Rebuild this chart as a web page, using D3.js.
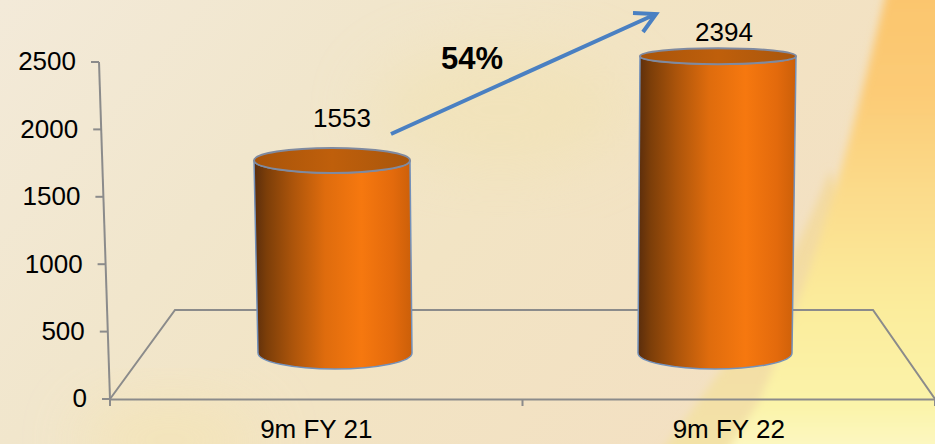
<!DOCTYPE html>
<html>
<head>
<meta charset="utf-8">
<script src="https://cdn.jsdelivr.net/npm/d3@7/dist/d3.min.js"></script>
<style>
html, body { margin: 0; padding: 0; overflow: hidden; }
svg { display: block; font-family: "Liberation Sans", Arial, sans-serif; }
.axis path, .axis line { stroke: #8b8b8b; stroke-width: 2; fill: none; }
.axis text { font-size: 26px; fill: #000; }
.value { font-size: 26px; fill: #000; text-anchor: middle; }
</style>
</head>
<body>
<svg id="chart" width="935" height="444"></svg>
<script>
var categories = ["9m FY 21", "9m FY 22"];
var values = [1553, 2394];
var yTicks = [0, 500, 1000, 1500, 2000, 2500];
var growthLabel = "54%";

var svg = d3.select("#chart"),
    width = +svg.attr("width"),
    height = +svg.attr("height");

var defs = svg.append("defs");

function gradient(id, stops, x2, y2) {
  var g = defs.append("linearGradient").attr("id", id)
      .attr("x1", 0).attr("y1", 0).attr("x2", x2).attr("y2", y2);
  stops.forEach(function(s) {
    g.append("stop").attr("offset", s[0]).attr("stop-color", s[1]);
  });
}

gradient("bgBase", [[0, "#f3ead9"], [0.35, "#f1e6cc"], [0.6, "#f2e4c4"], [1, "#f3e0c2"]], 1, 0.4);
gradient("bgRight", [[0, "#fbc56d"], [0.22, "#fccb76"], [0.45, "#fbdc8c"], [0.68, "#fbec9c"], [0.9, "#fbf4aa"], [1, "#fdf8c6"]], 0, 1);
gradient("bgMid", [[0, "#f3d9a0"], [1, "#f3e2a8"]], 0, 1);
gradient("body", [[0, "#5a2d0c"], [0.08, "#7c3e09"], [0.25, "#ad550b"], [0.45, "#df6c0d"], [0.68, "#f6780f"], [0.88, "#e36a0c"], [1, "#cb5f09"]], 1, 0);
gradient("cap", [[0, "#a8540a"], [0.5, "#bf5f0b"], [1, "#a9560c"]], 1, 0);

defs.append("filter").attr("id", "soft")
    .attr("x", "-20%").attr("y", "-20%").attr("width", "140%").attr("height", "140%")
  .append("feGaussianBlur").attr("stdDeviation", 4);
defs.append("filter").attr("id", "softer")
    .attr("x", "-40%").attr("y", "-40%").attr("width", "180%").attr("height", "180%")
  .append("feGaussianBlur").attr("stdDeviation", 30);

// background
svg.append("rect").attr("width", width).attr("height", height).attr("fill", "url(#bgBase)");
svg.append("ellipse").attr("cx", 500).attr("cy", 110).attr("rx", 130).attr("ry", 60)
    .attr("fill", "#f1e2b0").attr("opacity", 0.5).attr("filter", "url(#softer)");
svg.append("ellipse").attr("cx", 170).attr("cy", 440).attr("rx", 90).attr("ry", 40)
    .attr("fill", "#f4e4b6").attr("opacity", 0.8).attr("filter", "url(#softer)");
svg.append("path")
    .attr("d", "M830,170 C780,300 720,370 660,454 L800,454 L860,250 Z")
    .attr("fill", "url(#bgMid)").attr("filter", "url(#soft)");
svg.append("path")
    .attr("d", "M887,-10 C862,90 835,220 760,400 L725,454 L945,454 L945,-10 Z")
    .attr("fill", "url(#bgRight)").attr("filter", "url(#soft)");

// floor drawn behind the bars
svg.append("path")
    .attr("d", "M110,399 L175,310 L873,310 L935,399")
    .attr("fill", "none").attr("stroke", "#8b8b8b").attr("stroke-width", 2);

// y axis leans slightly, so every tick gets moved along it
var y = d3.scaleLinear().domain([0, 2500]).range([399, 62]);
var lean = d3.scaleLinear().domain([0, 2500]).range([110, 99]);

var yAxis = svg.append("g").attr("class", "axis")
    .call(d3.axisLeft(y).tickValues(yTicks).tickFormat(d3.format("d")).tickSize(8).tickPadding(15).tickSizeOuter(0));
yAxis.selectAll(".tick")
    .attr("transform", function(d) { return "translate(" + lean(d) + "," + y(d) + ")"; });
yAxis.select(".domain")
    .attr("d", "M" + lean(0) + "," + y(0) + "L" + lean(2500) + "," + y(2500));

// x axis
var x = d3.scaleBand().domain(categories).range([110, 935]);
var xAxis = svg.append("g").attr("class", "axis")
    .attr("transform", "translate(0,399)")
    .call(d3.axisBottom(x).tickSize(0).tickPadding(21));
xAxis.selectAll(".boundary")
    .data([0, 1, 2])
    .enter().append("line")
      .attr("class", "boundary")
      .attr("x1", function(d) { return 110 + d * x.step(); })
      .attr("x2", function(d) { return 110 + d * x.step(); })
      .attr("y1", 0)
      .attr("y2", 7);

// cylinders
var barY = d3.scaleLinear().domain([0, 2500]).range([353, 43]);
var topX = d3.scalePoint().domain(categories).range([332, 718]);
var baseX = d3.scalePoint().domain(categories).range([335, 715]);
var capRy = d3.scaleLinear().domain([0, 1553, 2394]).range([16, 12.5, 8]);
var topRx = 78, baseRx = 77, baseRy = 16;
var outline = "#7391bb";

var bars = svg.selectAll(".bar")
    .data(values)
    .enter().append("g")
      .attr("class", "bar");

bars.append("path")
    .attr("fill", "url(#body)")
    .attr("stroke", outline)
    .attr("stroke-width", 1.5)
    .attr("d", function(d, i) {
      var c = categories[i], t = barY(d), b = barY(0), ry = capRy(d);
      return "M" + (topX(c) - topRx) + "," + t +
        "L" + (baseX(c) - baseRx) + "," + b +
        "A" + baseRx + "," + baseRy + " 0 0 0 " + (baseX(c) + baseRx) + "," + b +
        "L" + (topX(c) + topRx) + "," + t +
        "A" + topRx + "," + ry + " 0 0 1 " + (topX(c) - topRx) + "," + t + "Z";
    });

bars.append("ellipse")
    .attr("fill", "url(#cap)")
    .attr("stroke", "#7f8aa0")
    .attr("stroke-width", 2)
    .attr("cx", function(d, i) { return topX(categories[i]); })
    .attr("cy", function(d) { return barY(d); })
    .attr("rx", topRx)
    .attr("ry", function(d) { return capRy(d); });

// data labels sit off centre in the original
var labelShift = [[10, -33], [6, -15]];
bars.append("text")
    .attr("class", "value")
    .attr("x", function(d, i) { return topX(categories[i]) + labelShift[i][0]; })
    .attr("y", function(d, i) { return barY(d) + labelShift[i][1]; })
    .text(function(d) { return d; });

// growth arrow
svg.append("path")
    .attr("d", "M391,134 L656,14 M633,13 L656,14 L643,32")
    .attr("fill", "none")
    .attr("stroke", "#4a80c2")
    .attr("stroke-width", 4);

svg.append("text")
    .attr("x", 472)
    .attr("y", 69)
    .attr("text-anchor", "middle")
    .attr("font-size", 31)
    .attr("font-weight", "bold")
    .attr("fill", "#000")
    .text(growthLabel);
</script>
</body>
</html>
